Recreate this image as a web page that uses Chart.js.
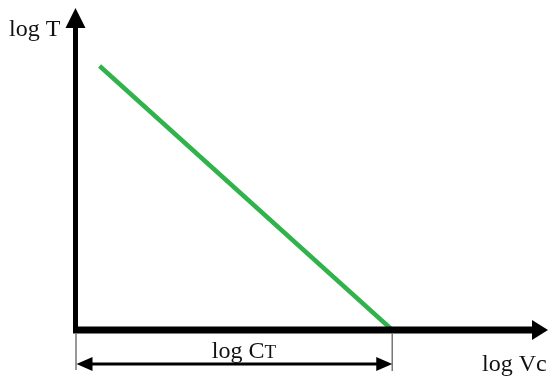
<!DOCTYPE html>
<html>
<head>
<meta charset="utf-8">
<script src="https://cdn.jsdelivr.net/npm/chart.js@4"></script>
<style>
  html, body { margin: 0; padding: 0; background: #fff; }
  #wrap { width: 548px; height: 376px; }
</style>
</head>
<body>
<div id="wrap"><canvas id="toolLife"></canvas></div>
<script>
// Taylor tool life line, log-log (arbitrary units)
const logVc = [0.5, 6.7];
const logT = [8.2, 0];
const logCT = 6.7;

const green = '#2fb34a';
const serif = '"Liberation Serif", "DejaVu Serif", serif';

function arrowHead(ctx, x, y, dir, len, half) {
  // dir: 'up' | 'right' | 'left'
  ctx.beginPath();
  if (dir === 'up') {
    ctx.moveTo(x, y);
    ctx.lineTo(x - half, y + len);
    ctx.lineTo(x + half, y + len);
  } else if (dir === 'right') {
    ctx.moveTo(x, y);
    ctx.lineTo(x - len, y - half);
    ctx.lineTo(x - len, y + half);
  } else {
    ctx.moveTo(x, y);
    ctx.lineTo(x + len, y - half);
    ctx.lineTo(x + len, y + half);
  }
  ctx.closePath();
  ctx.fill();
}

const axesPlugin = {
  id: 'axesPlugin',
  afterDraw(chart) {
    const ctx = chart.ctx;
    const xs = chart.scales.x;
    const ys = chart.scales.y;
    const ox = xs.getPixelForValue(0) - 0.5;
    const oy = ys.getPixelForValue(0);
    const right = chart.width;

    ctx.save();
    ctx.fillStyle = '#000';
    ctx.strokeStyle = '#000';

    // y axis
    ctx.lineWidth = 5;
    ctx.beginPath();
    ctx.moveTo(ox, oy + 3);
    ctx.lineTo(ox, 26);
    ctx.stroke();
    arrowHead(ctx, ox, 8, 'up', 20, 10);

    // x axis
    ctx.lineWidth = 7;
    ctx.beginPath();
    ctx.moveTo(ox - 2.5, oy);
    ctx.lineTo(right - 14, oy);
    ctx.stroke();
    arrowHead(ctx, right, oy, 'right', 16, 10);

    // dimension line for log CT
    const ex = xs.getPixelForValue(logCT);
    const dy = 364;
    ctx.strokeStyle = '#777';
    ctx.lineWidth = 1.5;
    ctx.beginPath();
    ctx.moveTo(ox + 0.5, oy + 3);
    ctx.lineTo(ox + 0.5, 370);
    ctx.moveTo(ex, oy + 3);
    ctx.lineTo(ex, 371);
    ctx.stroke();

    ctx.strokeStyle = '#000';
    ctx.lineWidth = 3;
    ctx.beginPath();
    ctx.moveTo(ox + 10, dy);
    ctx.lineTo(ex - 10, dy);
    ctx.stroke();
    arrowHead(ctx, ox + 1, dy, 'left', 16, 7);
    arrowHead(ctx, ex, dy, 'right', 16, 7);

    // labels
    ctx.fillStyle = '#111';
    ctx.textBaseline = 'alphabetic';
    ctx.textAlign = 'left';
    ctx.font = '24px ' + serif;
    ctx.fillText('log T', 9, 36);
    ctx.fillText('log Vc', 482, 371);

    const w1 = ctx.measureText('log C').width;
    const sx = (ox + ex) / 2 - 22;
    ctx.fillText('log C', sx, 358);
    ctx.font = '19px ' + serif;
    ctx.fillText('T', sx + w1, 358);
    ctx.restore();
  }
};

new Chart(document.getElementById('toolLife').getContext('2d'), {
  type: 'scatter',
  data: {
    datasets: [{
      data: logVc.map((v, i) => ({ x: v, y: logT[i] })),
      showLine: true,
      borderColor: green,
      borderWidth: 4.5,
      pointRadius: 0,
      borderCapStyle: 'butt'
    }]
  },
  options: {
    responsive: true,
    maintainAspectRatio: false,
    animation: false,
    layout: { padding: { left: 76, right: 0, top: 8, bottom: 46 } },
    scales: {
      x: { type: 'linear', min: 0, max: 10, display: false },
      y: { type: 'linear', min: 0, max: 10, display: false }
    },
    plugins: {
      legend: { display: false },
      tooltip: { enabled: false }
    }
  },
  plugins: [axesPlugin]
});
</script>
</body>
</html>
